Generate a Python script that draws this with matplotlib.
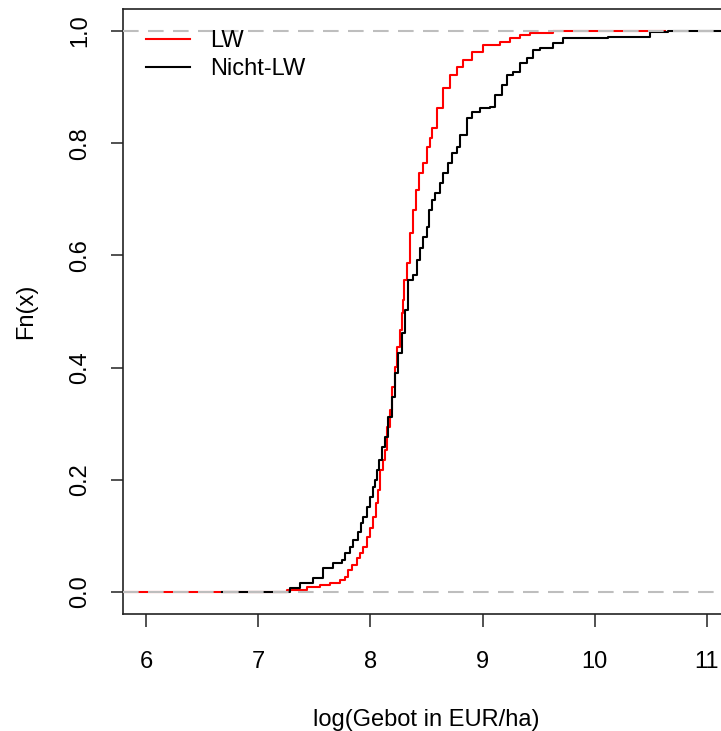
import matplotlib
matplotlib.use("Agg")
import matplotlib.pyplot as plt

plt.rcParams['font.family'] = ['Liberation Sans', 'DejaVu Sans']

# Empirical distribution of log bids (EUR/ha): jump location -> Fn after the jump
lw_x = [7.26, 7.435, 7.551, 7.640, 7.729, 7.774, 7.800, 7.836, 7.881, 7.907,
        7.934, 7.970, 7.996, 8.023, 8.050, 8.068, 8.086, 8.110, 8.130, 8.148,
        8.175, 8.193, 8.219, 8.237, 8.264, 8.282, 8.291, 8.300, 8.326, 8.353,
        8.380, 8.406, 8.433, 8.469, 8.504, 8.531, 8.549, 8.594, 8.647, 8.709,
        8.772, 8.825, 8.906, 9.004, 9.155, 9.244, 9.333, 9.422, 9.630]
lw_F = [0.004, 0.009, 0.012, 0.016, 0.021, 0.027, 0.039, 0.048, 0.061, 0.070,
        0.080, 0.098, 0.114, 0.134, 0.159, 0.182, 0.217, 0.235, 0.253, 0.294,
        0.324, 0.365, 0.401, 0.437, 0.467, 0.497, 0.520, 0.556, 0.586, 0.640,
        0.681, 0.717, 0.747, 0.765, 0.793, 0.810, 0.827, 0.863, 0.898, 0.922,
        0.936, 0.948, 0.963, 0.975, 0.980, 0.988, 0.993, 0.996, 1.000]

nlw_x = [7.283, 7.373, 7.488, 7.578, 7.667, 7.747, 7.774, 7.818, 7.845, 7.889,
         7.916, 7.934, 7.970, 7.996, 8.023, 8.041, 8.059, 8.080, 8.103, 8.130,
         8.157, 8.193, 8.219, 8.246, 8.282, 8.308, 8.335, 8.380, 8.415, 8.442,
         8.469, 8.504, 8.522, 8.549, 8.576, 8.620, 8.647, 8.691, 8.727, 8.772,
         8.799, 8.861, 8.906, 8.977, 9.066, 9.111, 9.173, 9.217, 9.271, 9.333,
         9.396, 9.449, 9.512, 9.627, 9.716, 10.118, 10.490, 10.650]
nlw_F = [0.007, 0.016, 0.025, 0.043, 0.052, 0.057, 0.070, 0.080, 0.093, 0.107,
         0.123, 0.134, 0.152, 0.169, 0.187, 0.200, 0.217, 0.235, 0.258, 0.276,
         0.312, 0.348, 0.390, 0.426, 0.462, 0.503, 0.556, 0.565, 0.592, 0.613,
         0.633, 0.651, 0.681, 0.699, 0.711, 0.729, 0.747, 0.765, 0.783, 0.793,
         0.815, 0.845, 0.856, 0.863, 0.865, 0.886, 0.904, 0.922, 0.927, 0.943,
         0.952, 0.966, 0.970, 0.979, 0.988, 0.989, 0.998, 1.000]

# horizontal extensions of each step function beyond its first/last jump
lw_range = (4.0, 10.63)
nlw_range = (6.68, 13.0)

series_labels = ["LW", "Nicht-LW"]
x_ticks = [6, 7, 8, 9, 10, 11]
y_ticks = [0.0, 0.2, 0.4, 0.6, 0.8, 1.0]
y_ticklabels = ["0.0", "0.2", "0.4", "0.6", "0.8", "1.0"]


def step_xy(xs, fs, rng):
    return [rng[0]] + xs + [rng[1]], [0.0] + fs + [fs[-1]]


fig = plt.figure(figsize=(7.21, 7.31), dpi=100)
ax = fig.add_axes([0.1706, 0.1595, 0.8411, 0.8288])
ax.set_xlim(5.795, 11.2)
ax.set_ylim(-0.04, 1.04)

x, y = step_xy(lw_x, lw_F, lw_range)
ax.plot(x, y, drawstyle="steps-post", color="#FF0000", lw=1.5, zorder=2,
        label=series_labels[0])
x, y = step_xy(nlw_x, nlw_F, nlw_range)
ax.plot(x, y, drawstyle="steps-post", color="black", lw=1.5, zorder=2.5,
        label=series_labels[1])

for h in (0.0, 1.0):
    ax.axhline(h, color="#BEBEBE", lw=1.5, ls=(0, (7.5, 4.5)), zorder=3)

ax.set_xticks(x_ticks)
ax.set_yticks(y_ticks)
ax.set_yticklabels(y_ticklabels, rotation=90, va="center", ha="center")
ax.tick_params(axis="both", direction="out", length=9, width=1.1,
               labelsize=17, color="#222222")
ax.tick_params(axis="x", pad=17)
ax.tick_params(axis="y", pad=22)
for s in ax.spines.values():
    s.set_linewidth(1.2)
    s.set_color("#222222")

ax.set_xlabel("log(Gebot in EUR/ha)", fontsize=17)
ax.xaxis.set_label_coords(0.5, -0.175)
ax.xaxis.label.set_va("center")
ax.set_ylabel("Fn(x)", fontsize=17)
ax.yaxis.set_label_coords(-0.160, 0.5)
ax.yaxis.label.set_va("center")

ax.legend(loc="upper left", bbox_to_anchor=(0.038, 0.964), frameon=False,
          fontsize=17, handlelength=1.86, handletextpad=0.85,
          borderpad=0, borderaxespad=0, labelspacing=0.23)

fig.savefig("out.png", dpi=100)
